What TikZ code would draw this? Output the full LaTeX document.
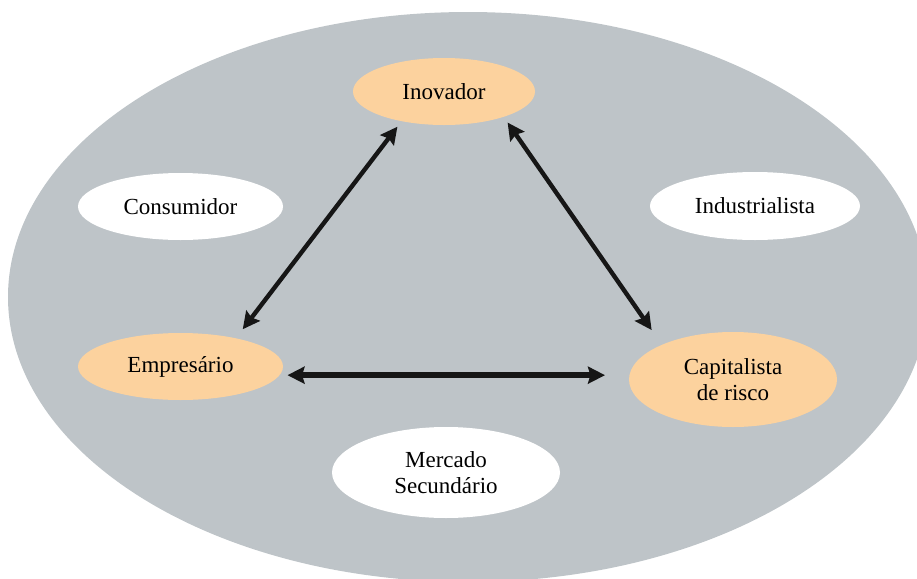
\documentclass[tikz,border=0pt]{standalone}
\usepackage{fontspec}
\setmainfont{Liberation Serif}
\usetikzlibrary{shapes.geometric,arrows.meta}
\definecolor{bggray}{RGB}{190,196,200}
\definecolor{peach}{RGB}{252,210,158}
\definecolor{ink}{RGB}{22,22,22}
\begin{document}
\begin{tikzpicture}[x=0.5pt,y=-0.5pt,
  lab/.style={ellipse,inner sep=0pt,outer sep=0pt,font=\fontsize{11.5}{13}\selectfont,align=center,text=black},
  core/.style={lab,fill=peach},
  side/.style={lab,fill=white},
  tipk/.tip={Stealth[length=8.5pt,width=8.5pt,inset=1.2pt]},
  arr/.style={draw=ink,line width=2.2pt,tipk-tipk},
  arrh/.style={arr,line width=3pt}]
\useasboundingbox (0,0) rectangle (917,579);
\clip (0,0) rectangle (917,579);
\fill[bggray] (468,297) ellipse [x radius=230pt, y radius=142.5pt];

\node[core,minimum width=91pt,minimum height=33.5pt] (ino) at (444,91.5) {Inovador};
\node[side,minimum width=102.5pt,minimum height=33.5pt] (con) at (180.5,206.5) {Consumidor};
\node[side,minimum width=105pt,minimum height=34pt] (ind) at (755,206) {Industrialista};
\node[core,minimum width=102.5pt,minimum height=33.5pt] (emp) at (180.5,366.5) {Empresário};
\node[core,minimum width=104pt,minimum height=47.5pt] (cap) at (733,379.5) {Capitalista\\de risco};
\node[side,minimum width=114pt,minimum height=45.5pt] (mer) at (446,472.5) {Mercado\\Secundário};

\draw[arr,shorten <=5.7pt,shorten >=3.5pt] (emp.27.6) -- (ino.215.6);
\draw[arr,shorten <=3.5pt,shorten >=9pt] (ino.337.8) -- (cap.154.3);
\draw[arrh,shorten <=4pt,shorten >=12pt] (emp.355) -- (emp.355 -| cap.west);
\end{tikzpicture}
\end{document}
